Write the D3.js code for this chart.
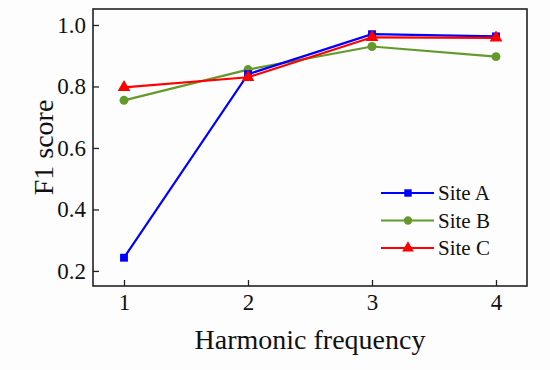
<!DOCTYPE html>
<html>
<head>
<meta charset="utf-8">
<script src="https://cdn.jsdelivr.net/npm/d3@7"></script>
<style>
	body { margin: 0; background: #fdfdfd; }
	text { font-family: "Liberation Serif", "Times New Roman", serif; fill: #111; }
</style>
</head>
<body>
<script>
//chart values
var harmonics = [1, 2, 3, 4];
var siteA = [0.243, 0.840, 0.970, 0.963];
var siteB = [0.755, 0.855, 0.930, 0.897];
var siteC = [0.797, 0.830, 0.960, 0.958];
var yTicks = [0.2, 0.4, 0.6, 0.8, 1.0];
var seriesNames = ["Site A", "Site B", "Site C"];

var colors = {"Site A": "#0000ff", "Site B": "#639a2b", "Site C": "#ff0000"};
var symbols = {"Site A": d3.symbolSquare, "Site B": d3.symbolCircle, "Site C": d3.symbolTriangle};

var width = 550, height = 370,
	margin = {top: 9, right: 23, bottom: 84, left: 93};

var xScale = d3.scaleLinear().domain([0.75, 4.25]).range([margin.left, width - margin.right]),
	yScale = d3.scaleLinear().domain([0.151, 1.052]).range([height - margin.bottom, margin.top]);

var svg = d3.select("body").append("svg")
	.attr("width", width)
	.attr("height", height);

//axes, ticks pointing in
svg.append("g")
	.attr("class", "axis axis-x")
	.attr("transform", "translate(0," + (height - margin.bottom) + ")")
	.call(d3.axisBottom(xScale).tickValues(harmonics).tickFormat(d3.format("d")).tickSize(-6).tickPadding(8))
	.call(function(g){ g.select(".domain").remove(); })
	.style("font-size", "23px");

svg.append("g")
	.attr("class", "axis axis-y")
	.attr("transform", "translate(" + margin.left + ",0)")
	.call(d3.axisLeft(yScale).tickValues(yTicks).tickFormat(d3.format(".1f")).tickSize(-6).tickPadding(7))
	.call(function(g){ g.select(".domain").remove(); })
	.style("font-size", "23px");

svg.selectAll(".axis text").style("font-family", "Liberation Serif").attr("fill", "#111");
svg.selectAll(".axis line").attr("stroke", "#222").attr("stroke-width", 1.3);

//frame
svg.append("rect")
	.attr("x", margin.left)
	.attr("y", margin.top)
	.attr("width", width - margin.left - margin.right)
	.attr("height", height - margin.top - margin.bottom)
	.attr("fill", "none")
	.attr("stroke", "#222")
	.attr("stroke-width", 1.6);

//labels
svg.append("text")
	.attr("x", (margin.left + width - margin.right) / 2)
	.attr("y", 349)
	.style("text-anchor", "middle")
	.style("font-size", "28px")
	.text("Harmonic frequency");
svg.append("text")
	.attr("transform", "translate(53," + ((margin.top + height - margin.bottom) / 2) + ") rotate(-90)")
	.style("text-anchor", "middle")
	.style("font-size", "28px")
	.text("F1 score");

//series
var series = [
	{name: "Site A", values: siteA},
	{name: "Site B", values: siteB},
	{name: "Site C", values: siteC}
];

var line = d3.line()
	.x(function(d, i) { return xScale(harmonics[i]); })
	.y(function(d) { return yScale(d); });

//green underneath, red drawn last like the picture
var drawOrder = [series[1], series[0], series[2]];

drawOrder.forEach(function(s){
	var g = svg.append("g");
	g.append("path")
		.datum(s.values)
		.attr("fill", "none")
		.attr("stroke", colors[s.name])
		.attr("stroke-width", 2.2)
		.attr("d", line);
	g.selectAll("path.pt")
		.data(s.values).enter()
		.append("path")
		.attr("class", "pt")
		.attr("fill", colors[s.name])
		.attr("d", d3.symbol().type(symbols[s.name]).size(s.name == "Site C" ? 70 : 62))
		.attr("transform", function(d, i) { return "translate(" + xScale(harmonics[i]) + "," + yScale(d) + ")"; });
});

//legend
var legend = svg.append("g").attr("class", "legend");
seriesNames.forEach(function(name, j){
	var y = 193 + j * 27.5;
	legend.append("line")
		.attr("x1", 381).attr("x2", 434)
		.attr("y1", y).attr("y2", y)
		.attr("stroke", colors[name])
		.attr("stroke-width", 2.2);
	legend.append("path")
		.attr("fill", colors[name])
		.attr("d", d3.symbol().type(symbols[name]).size(name == "Site C" ? 60 : 55))
		.attr("transform", "translate(408," + y + ")");
	legend.append("text")
		.attr("x", 438)
		.attr("y", y + 7)
		.style("font-size", "21px")
		.text(name);
});
</script>
</body>
</html>
